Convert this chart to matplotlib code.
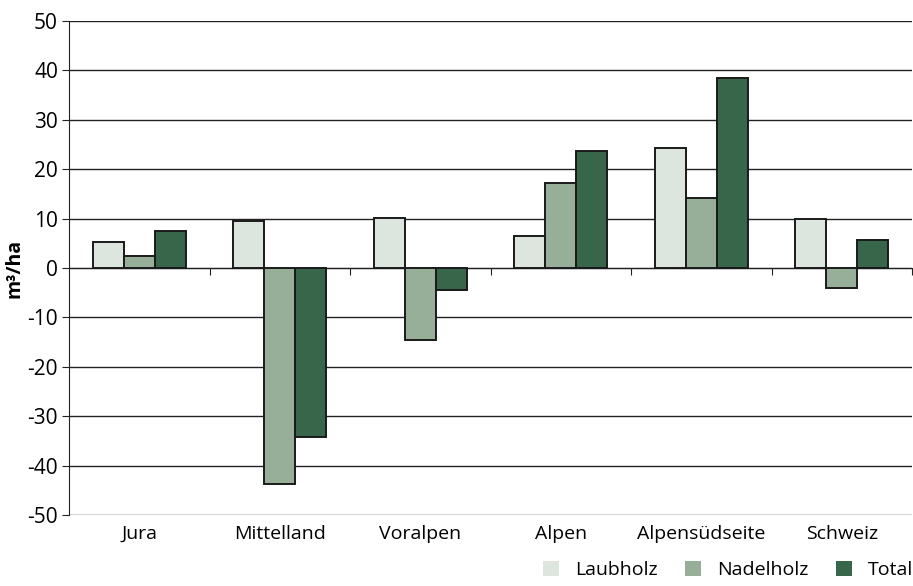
import numpy as np
import matplotlib.pyplot as plt
from matplotlib.patches import Patch

plt.rcParams['font.family'] = ['Open Sans', 'DejaVu Sans']
plt.rcParams['axes.unicode_minus'] = False  # Bindestrich statt Minuszeichen

regionen = ['Jura', 'Mittelland', 'Voralpen', 'Alpen', 'Alpensüdseite', 'Schweiz']
laubholz = [5.3, 9.5, 10.1, 6.5, 24.3, 9.9]
nadelholz = [2.4, -43.7, -14.6, 17.2, 14.2, -4.0]
total = [7.5, -34.2, -4.5, 23.7, 38.5, 5.7]
serien = ['Laubholz', 'Nadelholz', 'Total']
farben = ['#dce5de', '#97af98', '#37664a']

fig = plt.figure(figsize=(9.13, 5.86), dpi=100)
ax = fig.add_axes([0.0756, 0.1212, 0.9234, 0.843])

ind = np.arange(len(regionen))
width = 0.22
for i, (werte, name, farbe) in enumerate(zip([laubholz, nadelholz, total], serien, farben)):
    ax.bar(ind + (i - 1) * width, werte, width, color=farbe, edgecolor='#1a1a1a',
           linewidth=1.4, label=name, zorder=3)

ax.set_xlim(-0.5, len(regionen) - 0.5)
ax.set_ylim(-50, 50)
ax.set_yticks(np.arange(-50, 51, 10))
ax.yaxis.grid(True, color='#222222', linewidth=1.0, zorder=0)
ax.set_axisbelow(True)

for s in ['top', 'right']:
    ax.spines[s].set_visible(False)
ax.spines['left'].set_color('#222222')
ax.spines['bottom'].set_position(('data', 0))
ax.spines['bottom'].set_color('#222222')

ax.set_xticks(ind + 0.5)
ax.tick_params(axis='x', direction='out', length=5, labelbottom=False, color='#222222')
ax.tick_params(axis='y', direction='out', length=5, labelsize=15, color='#222222', pad=3)

sec = ax.secondary_xaxis(0)
sec.set_xticks(ind)
sec.set_xticklabels(regionen, fontsize=14)
sec.tick_params(length=0, pad=7)
sec.spines['bottom'].set_visible(False)

ax.set_ylabel('m³/ha', fontsize=14, fontweight='bold', labelpad=2)

handles = [Patch(facecolor=f, edgecolor='none') for f in farben]
fig.legend(handles, serien, loc='lower right', bbox_to_anchor=(1.019, -0.018), ncol=3,
           frameon=False, fontsize=14, handlelength=0.85, handleheight=0.85,
           columnspacing=1.4, handletextpad=0.8)

plt.savefig('out.png', dpi=100)
